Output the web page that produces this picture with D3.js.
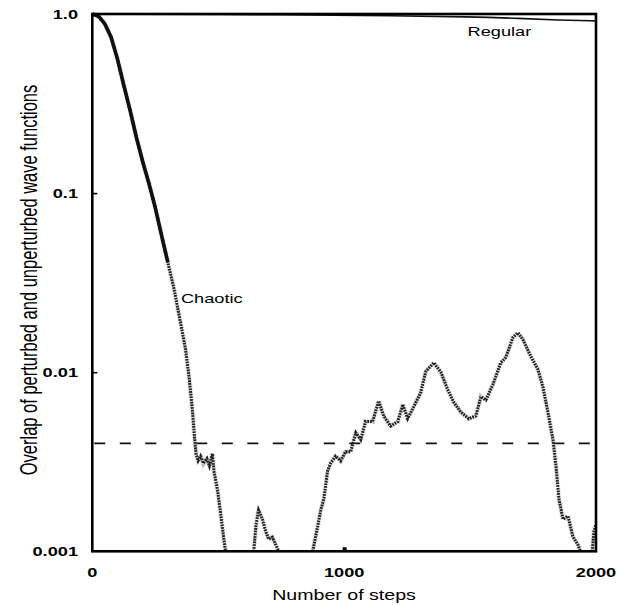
<!DOCTYPE html>
<html>
<head>
<meta charset="utf-8">
<script src="https://cdn.jsdelivr.net/npm/d3@7"></script>
<style>
  html, body { margin: 0; padding: 0; background: #fff; }
  svg { display: block; }
  text { font-family: "Liberation Sans", Arial, sans-serif; fill: #000; }
</style>
</head>
<body>
<svg id="chart" width="618" height="605"></svg>
<script>
// ---- data ----
const chaoticSteps = [0, 25, 50, 75, 100, 125, 150, 175, 200, 225, 250, 275, 300, 325, 350, 370, 385, 398, 406, 412, 420, 430, 441, 455, 465, 477, 483, 497, 509, 521, 529,
  585,
  641, 650, 660, 668, 676, 688, 700, 715, 728, 740,
  800,
  875, 895, 907, 919, 926, 934, 946, 966, 986, 1006, 1026, 1046, 1066, 1085, 1113, 1137, 1157, 1185, 1213, 1233, 1252, 1276, 1304, 1324, 1356, 1384, 1411, 1435, 1463, 1495, 1523, 1543, 1563, 1590, 1622, 1642, 1670, 1690, 1710, 1742, 1769, 1789, 1809, 1829, 1841, 1853, 1869, 1889, 1908, 1928, 1938,
  1960,
  1985, 1992, 2000];
const chaoticValues = [1.0, 0.97, 0.88, 0.74, 0.56, 0.40, 0.29, 0.205, 0.150, 0.113, 0.083, 0.058, 0.041, 0.029, 0.019, 0.0135, 0.0092, 0.0060, 0.0043, 0.0035, 0.0032, 0.0034, 0.0031, 0.0033, 0.0030, 0.0035, 0.0028, 0.0022, 0.00165, 0.00121, 0.001,
  null,
  0.001, 0.0014, 0.0017, 0.0016, 0.0015, 0.0013, 0.00117, 0.0012, 0.00109, 0.001,
  null,
  0.001, 0.00138, 0.0017, 0.00195, 0.0023, 0.0028, 0.0031, 0.0034, 0.0032, 0.0036, 0.0036, 0.0046, 0.0042, 0.0053, 0.0053, 0.0069, 0.0057, 0.0050, 0.0053, 0.0066, 0.0055, 0.0064, 0.0077, 0.0101, 0.0113, 0.0100, 0.0080, 0.0068, 0.0060, 0.0055, 0.0057, 0.0073, 0.0070, 0.0085, 0.0113, 0.0121, 0.0156, 0.0166, 0.0152, 0.0122, 0.0104, 0.0083, 0.0060, 0.0042, 0.0030, 0.00195, 0.00151, 0.00157, 0.00121, 0.00109, 0.001,
  null,
  0.001, 0.0013, 0.0014];

const regularSteps  = [0, 800, 1200, 1500, 1700, 1850, 2000];
const regularValues = [1.0, 0.99, 0.978, 0.965, 0.945, 0.925, 0.915];

const thresholdValue = 0.004;

const xTickValues = [0, 1000, 2000];
const xTickLabels = ["0", "1000", "2000"];
const yTickValues = [1, 0.1, 0.01, 0.001];
const yTickLabels = ["1.0", "0.1", "0.01", "0.001"];

const seriesLabels = [
  { name: "Chaotic", step: 352, value: 0.0245 },
  { name: "Regular", step: 1490, value: 0.755 }
];
const xTitle = "Number of steps";
const yTitle = "Overlap of perturbed and unperturbed wave functions";

// ---- layout ----
const L = 92.3, R = 596, T = 14, B = 551.3;
const SX = 1.4; // horizontal stretch of the original figure's lettering

const svg = d3.select("#chart");
const x = d3.scaleLinear().domain([0, 2000]).range([L, R]);
const y = d3.scaleLog().domain([0.001, 1]).range([B, T]);

svg.append("defs").append("clipPath").attr("id", "plot")
  .append("rect").attr("x", L).attr("y", T - 2).attr("width", R - L).attr("height", B - T + 2);

// dashed threshold
svg.append("line")
  .attr("x1", L + 2).attr("x2", R)
  .attr("y1", y(thresholdValue)).attr("y2", y(thresholdValue))
  .attr("stroke", "#111").attr("stroke-width", 1.7)
  .attr("stroke-dasharray", "11,14.5");

const chaotic = chaoticSteps.map((s, i) => ({ s, v: chaoticValues[i] }));
const regular = regularSteps.map((s, i) => ({ s, v: regularValues[i] }));

const line = d3.line()
  .defined(d => d.v != null)
  .x(d => x(d.s)).y(d => y(d.v))
  .curve(d3.curveLinear);

const g = svg.append("g").attr("clip-path", "url(#plot)");

// speckled chaotic trace
g.append("path").datum(chaotic)
  .attr("d", line)
  .attr("fill", "none").attr("stroke", "#888").attr("stroke-width", 5)
  .attr("stroke-dasharray", "0.9,1.6").attr("opacity", 0.55);
g.append("path").datum(chaotic)
  .attr("d", line)
  .attr("fill", "none").attr("stroke", "#222").attr("stroke-width", 3)
  .attr("stroke-dasharray", "1.8,0.9");
// dense dark beginning
g.append("path").datum(chaotic.filter(d => d.s <= 300))
  .attr("d", line)
  .attr("fill", "none").attr("stroke", "#111").attr("stroke-width", 3.6);

// regular
g.append("path").datum(regular)
  .attr("d", line.curve(d3.curveBasis))
  .attr("fill", "none").attr("stroke", "#111").attr("stroke-width", 1.6);

// frame
svg.append("rect")
  .attr("x", L).attr("y", T).attr("width", R - L).attr("height", B - T)
  .attr("fill", "none").attr("stroke", "#000").attr("stroke-width", 2.6);

// axes ticks (inward)
const yAxis = d3.axisLeft(y).tickValues([0.1, 0.01]).tickSize(-5).tickFormat("");
svg.append("g").attr("transform", `translate(${L},0)`).call(yAxis)
  .call(a => a.select(".domain").remove())
  .selectAll("line").attr("stroke", "#000").attr("stroke-width", 1.6);
const xAxis = d3.axisBottom(x).tickValues([1000]).tickSize(-4).tickFormat("");
svg.append("g").attr("transform", `translate(0,${B})`).call(xAxis)
  .call(a => a.select(".domain").remove())
  .selectAll("line").attr("stroke", "#000").attr("stroke-width", 4);

// tick labels
svg.append("g").selectAll("text").data(yTickValues).join("text")
  .attr("transform", d => `translate(78,${y(d)}) scale(${SX},1)`)
  .attr("text-anchor", "end").attr("dy", "0.36em")
  .attr("font-size", 13).attr("font-weight", "bold")
  .text((d, i) => yTickLabels[i]);

svg.append("g").selectAll("text").data(xTickValues).join("text")
  .attr("transform", d => `translate(${x(d)},577) scale(${SX},1)`)
  .attr("text-anchor", "middle")
  .attr("font-size", 13).attr("font-weight", "bold")
  .text((d, i) => xTickLabels[i]);

// axis titles
svg.append("text")
  .attr("transform", `translate(344,600) scale(${SX},1)`)
  .attr("text-anchor", "middle").attr("font-size", 14)
  .text(xTitle);
svg.append("text")
  .attr("transform", `translate(37,280) scale(${SX},1) rotate(-90)`)
  .attr("text-anchor", "middle").attr("font-size", 16.5)
  .text(yTitle);

// series labels
svg.append("g").selectAll("text").data(seriesLabels).join("text")
  .attr("transform", d => `translate(${x(d.step)},${y(d.value)}) scale(${SX},1)`)
  .attr("font-size", 13)
  .text(d => d.name);
</script>
</body>
</html>
